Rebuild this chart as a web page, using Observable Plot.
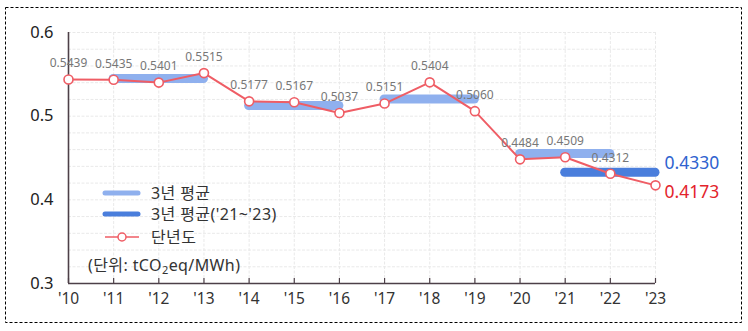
<!DOCTYPE html>
<html>
<head>
<meta charset="utf-8">
<script src="https://cdn.jsdelivr.net/npm/d3@7"></script>
<script src="https://cdn.jsdelivr.net/npm/@observablehq/plot@0.6"></script>
<style>
  html, body { margin: 0; padding: 0; background: #fff; }
  #wrap { position: relative; width: 748px; height: 331px; overflow: hidden; }
  #wrap > svg { position: absolute; left: 0; top: 0; }
  #overlay { position: absolute; left: 0; top: 0; pointer-events: none; }
</style>
</head>
<body>
<div id="wrap"></div>
<script>
// ---- data ----
const years = [2010, 2011, 2012, 2013, 2014, 2015, 2016, 2017, 2018, 2019, 2020, 2021, 2022, 2023];
const annual = [0.5439, 0.5435, 0.5401, 0.5515, 0.5177, 0.5167, 0.5037, 0.5151, 0.5404, 0.5060, 0.4484, 0.4509, 0.4312, 0.4173];
const avgStart = [2011, 2014, 2017, 2020];
const avgEnd = [2013, 2016, 2019, 2022];
const avgValue = [0.5450, 0.5127, 0.5205, 0.4555];
const recentStart = [2021];
const recentEnd = [2023];
const recentValue = [0.4330];
const yTicks = [0.3, 0.4, 0.5, 0.6];
const gridY = [0.30, 0.32, 0.34, 0.36, 0.38, 0.40, 0.42, 0.44, 0.46, 0.48, 0.50, 0.52, 0.54, 0.56, 0.58, 0.60];
const legendLabels = ["3년 평균", "3년 평균('21~'23)", "단년도"];

// ---- tables ----
const rows = years.map((y, i) => ({year: y, value: annual[i]}));
const avgRows = avgStart.map((s, i) => ({start: s, end: avgEnd[i], value: avgValue[i]}));
const recentRows = recentStart.map((s, i) => ({start: s, end: recentEnd[i], value: recentValue[i]}));
const lastRow = rows[rows.length - 1];
const labelRows = rows.slice(0, rows.length - 1);

const font = "'Noto Sans', 'Noto Sans CJK KR', sans-serif";
const RED = "#ef5d65";
const LIGHT = "#8fb0ee";
const DARK = "#4a7edc";
const AXIS = "#4d4048";

const chart = Plot.plot({
  width: 748,
  height: 331,
  marginLeft: 68,
  marginRight: 93,
  marginTop: 32,
  marginBottom: 48,
  style: {fontFamily: font, background: "transparent"},
  x: {domain: [2010, 2023], axis: null},
  y: {domain: [0.3, 0.6], axis: null},
  marks: [
    Plot.ruleY(gridY, {stroke: "#e9e9e9", strokeWidth: 1, strokeDasharray: "3,1.5"}),
    Plot.ruleX(years, {stroke: "#e9e9e9", strokeWidth: 1, strokeDasharray: "3,1.5"}),
    Plot.axisY({ticks: yTicks, tickFormat: d => d.toFixed(1), tickSize: 0, tickPadding: 15, fontSize: 16.5, fill: "#222", label: null}),
    Plot.axisX({ticks: years, tickFormat: d => "'" + String(d).slice(2), tickSize: 0, tickPadding: 9, fontSize: 15.5, fill: "#333", label: null}),
    Plot.tickX(years, {x: d => d, stroke: AXIS, strokeWidth: 1.2, insetTop: 246}),
    Plot.ruleX([2010], {stroke: AXIS, strokeWidth: 1.6}),
    Plot.ruleY([0.3], {stroke: AXIS, strokeWidth: 1.6}),
    Plot.ruleY(avgRows, {x1: "start", x2: "end", y: "value", stroke: LIGHT, strokeWidth: 9, strokeLinecap: "round"}),
    Plot.ruleY(recentRows, {x1: "start", x2: "end", y: "value", stroke: DARK, strokeWidth: 9, strokeLinecap: "round"}),
    Plot.line(rows, {x: "year", y: "value", stroke: RED, strokeWidth: 2}),
    Plot.dot(rows, {x: "year", y: "value", r: 4.5, fill: "white", stroke: RED, strokeWidth: 1.6}),
    Plot.text(labelRows, {x: "year", y: "value", text: d => d.value.toFixed(4), dy: -16, fontSize: 12, fill: "#777"}),
    Plot.text([lastRow], {x: "year", y: "value", text: d => d.value.toFixed(4), dx: 9, dy: 7, textAnchor: "start", fontSize: 17.5, fill: "#e3232c"}),
    Plot.text(recentRows, {x: "end", y: "value", text: d => d.value.toFixed(4), dx: 9, dy: -9, textAnchor: "start", fontSize: 17.5, fill: "#2f62cf"})
  ]
});
document.getElementById("wrap").appendChild(chart);

// ---- overlay: border + legend ----
const ov = d3.select("#wrap").append("svg")
  .attr("id", "overlay").attr("width", 748).attr("height", 331)
  .style("font-family", font);
ov.append("rect").attr("x", 5.5).attr("y", 7.5).attr("width", 736).attr("height", 315)
  .attr("fill", "none").attr("stroke", "#000").attr("stroke-width", 1).attr("stroke-dasharray", "3,2");

const lg = ov.append("g");
const legendY = [193, 214, 237];
lg.append("line").attr("x1", 105).attr("x2", 138).attr("y1", legendY[0]).attr("y2", legendY[0])
  .attr("stroke", LIGHT).attr("stroke-width", 5).attr("stroke-linecap", "round");
lg.append("line").attr("x1", 105).attr("x2", 138).attr("y1", legendY[1]).attr("y2", legendY[1])
  .attr("stroke", DARK).attr("stroke-width", 5).attr("stroke-linecap", "round");
lg.append("line").attr("x1", 105).attr("x2", 139).attr("y1", legendY[2]).attr("y2", legendY[2])
  .attr("stroke", RED).attr("stroke-width", 1.6);
lg.append("circle").attr("cx", 122).attr("cy", legendY[2]).attr("r", 4)
  .attr("fill", "white").attr("stroke", RED).attr("stroke-width", 1.5);
legendLabels.forEach((t, i) => {
  lg.append("text").attr("x", 151).attr("y", legendY[i]).attr("dy", "0.35em")
    .attr("font-size", 16).attr("letter-spacing", 0.4).attr("fill", "#333").text(t);
});
const unit = lg.append("text").attr("x", 88).attr("y", 265).attr("dy", "0.35em")
  .attr("font-size", 16).attr("letter-spacing", 0.4).attr("fill", "#333");
unit.append("tspan").text("(단위: tCO");
unit.append("tspan").attr("font-size", 11).attr("dy", 3).text("2");
unit.append("tspan").attr("dy", -3).text("eq/MWh)");
</script>
</body>
</html>
